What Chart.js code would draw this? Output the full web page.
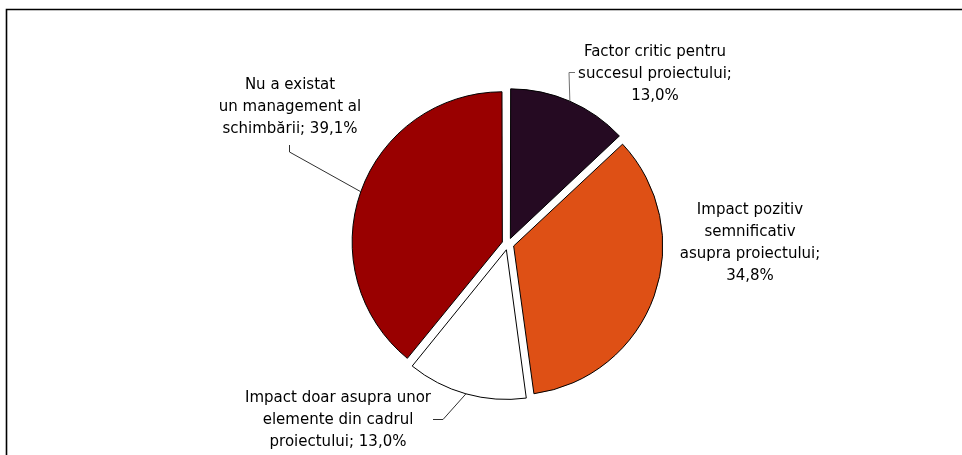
<!DOCTYPE html>
<html>
<head>
<meta charset="utf-8">
<script src="https://cdn.jsdelivr.net/npm/chart.js@4"></script>
<style>
  html, body { margin: 0; padding: 0; background: #fff; }
  #wrap { width: 962px; height: 455px; position: relative; }
</style>
</head>
<body>
<div id="wrap"><canvas id="pieChart" width="962" height="455"></canvas></div>
<script>
// date grafic
const categories = [
    'Factor critic pentru succesul proiectului',
    'Impact pozitiv semnificativ asupra proiectului',
    'Impact doar asupra unor elemente din cadrul proiectului',
    'Nu a existat un management al schimbării'
];
const values = [13.0, 34.8, 13.0, 39.1];
const colors = ['#250a22', '#de5015', '#ffffff', '#990000'];

// textul etichetelor pe randuri, {v} = procentul
const labelLines = [
    ['Factor critic pentru', 'succesul proiectului;', '{v}'],
    ['Impact pozitiv', 'semnificativ', 'asupra proiectului;', '{v}'],
    ['Impact doar asupra unor', 'elemente din cadrul', 'proiectului; {v}'],
    ['Nu a existat', 'un management al', 'schimbării; {v}']
];

// pozitia etichetelor fata de centru (dx, dy primul rand) si linia de legatura
const labelPos = [
    { dx: 147, dy: -192, leader: [[67, -171.5], [61, -171.5]] },
    { dx: 242, dy: -34, leader: null },
    { dx: -170, dy: 154, leader: [[-75, 175.5], [-65, 175.5]] },
    { dx: -218, dy: -159, leader: [[-218.5, -99], [-218.5, -92]] }
];
const lineHeight = 22;
const explode = 24; // chart.js translateaza cu offset/4

function fmt(v) {
    return v.toFixed(1).replace('.', ',') + '%';
}

const frameAndLabels = {
    id: 'frameAndLabels',
    beforeDraw(chart) {
        const ctx = chart.ctx;
        ctx.save();
        ctx.fillStyle = '#ffffff';
        ctx.fillRect(0, 0, chart.width, chart.height);
        ctx.strokeStyle = '#000000';
        ctx.lineWidth = 1.6;
        ctx.beginPath();
        ctx.moveTo(6.5, chart.height);
        ctx.lineTo(6.5, 9.5);
        ctx.lineTo(chart.width, 9.5);
        ctx.stroke();
        ctx.restore();
    },
    afterDraw(chart) {
        const ctx = chart.ctx;
        const meta = chart.getDatasetMeta(0);
        const shift = explode / 4;
        ctx.save();
        ctx.font = '15px "DejaVu Sans", Tahoma, sans-serif';
        ctx.fillStyle = '#000000';
        ctx.textAlign = 'center';
        ctx.textBaseline = 'middle';
        meta.data.forEach((arc, i) => {
            const p = labelPos[i];
            const cx = arc.x, cy = arc.y;
            labelLines[i].forEach((ln, k) => {
                ctx.fillText(ln.replace('{v}', fmt(values[i])), cx + p.dx, cy + p.dy + k * lineHeight);
            });
            if (p.leader) {
                const mid = (arc.startAngle + arc.endAngle) / 2;
                const circ = arc.endAngle - arc.startAngle;
                const r = arc.outerRadius + shift * (1 - Math.sin(Math.min(Math.PI, circ)));
                const ex = cx + Math.cos(mid) * (shift + r);
                const ey = cy + Math.sin(mid) * (shift + r);
                ctx.strokeStyle = i === 0 ? '#707070' : '#303030';
                ctx.lineWidth = 1;
                ctx.beginPath();
                ctx.moveTo(cx + p.leader[0][0], cy + p.leader[0][1]);
                ctx.lineTo(cx + p.leader[1][0], cy + p.leader[1][1]);
                ctx.lineTo(ex, ey);
                ctx.stroke();
            }
        });
        ctx.restore();
    }
};

const ctx = document.getElementById('pieChart').getContext('2d');
new Chart(ctx, {
    type: 'pie',
    data: {
        labels: categories,
        datasets: [{
            data: values,
            backgroundColor: colors,
            borderColor: '#000000',
            borderWidth: 1,
            offset: explode
        }]
    },
    options: {
        responsive: false,
        animation: false,
        events: [],
        radius: 148,
        layout: { padding: { left: 54, top: 33, right: 0, bottom: 0 } },
        plugins: {
            legend: { display: false },
            tooltip: { enabled: false },
            title: { display: false }
        }
    },
    plugins: [frameAndLabels]
});
</script>
</body>
</html>
